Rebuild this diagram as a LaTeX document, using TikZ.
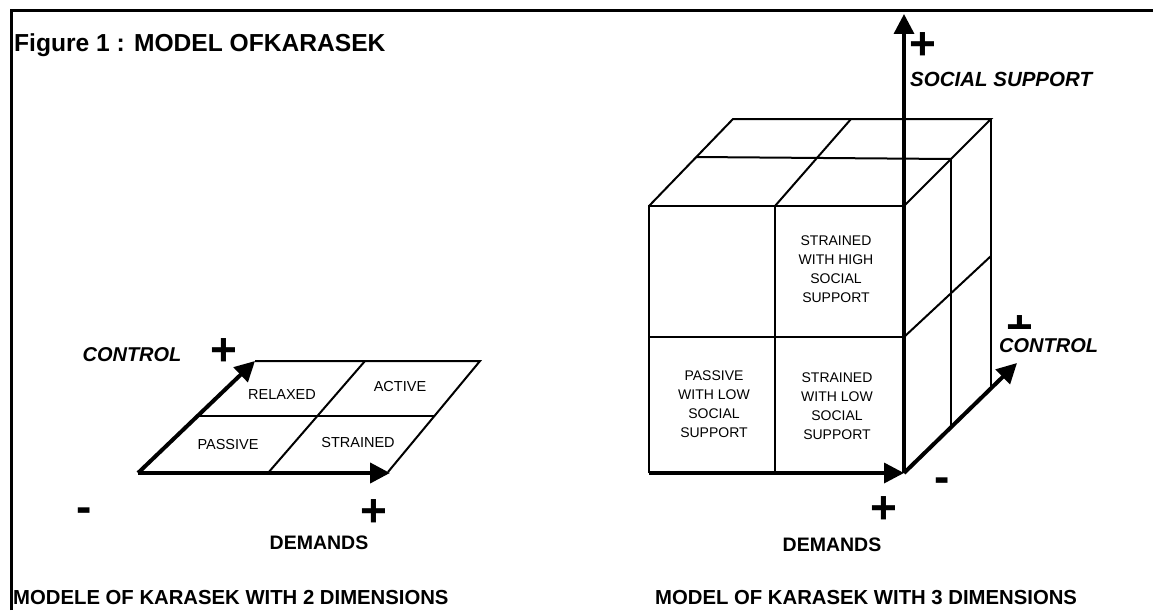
\documentclass[tikz,border=0pt]{standalone}
\usepackage{fontspec}
\setmainfont{Liberation Sans}
\usetikzlibrary{arrows.meta}

\begin{document}
\begin{tikzpicture}[x=1pt, y=-1pt]
\tikzstyle{frameline}=[line width=3pt]
\tikzstyle{gridline}=[line width=2pt]
\tikzstyle{axisarrow}=[line width=4pt, -{Triangle[length=20pt, width=20pt]}]
\tikzstyle{celltext}=[font=\fontsize{14}{19}\selectfont, align=center, inner sep=0pt]
\tikzstyle{axislabel}=[font=\fontsize{20}{24}\selectfont\bfseries\itshape, inner sep=0pt]
\tikzstyle{signtext}=[font=\fontsize{46}{46}\selectfont\bfseries, inner sep=0pt]
\tikzstyle{demandstext}=[font=\fontsize{19.5}{24}\selectfont\bfseries, inner sep=0pt]
\tikzstyle{captiontext}=[font=\fontsize{20.3}{24}\selectfont\bfseries, inner sep=0pt, anchor=base west]

\useasboundingbox (0,0) rectangle (1153,610);

% frame
\coordinate (B0) at (11,610);
\coordinate (B1) at (11,10.5);
\coordinate (B2) at (1153,10.5);
\draw[frameline] (B0) -- (B1) -- (B2);
\node[captiontext, font=\fontsize{24.6}{28}\selectfont\bfseries] (title) at (14,52) {Figure 1 : MODEL OFKARASEK};

% plane with 2 dimensions
\coordinate (P0x0) at (138,473);
\coordinate (P1x0) at (268,473);
\coordinate (P2x0) at (390,473);
\coordinate (P0x1) at (198,416);
\coordinate (P2x1) at (435,416);
\coordinate (P0x2) at (255,361);
\coordinate (P1x2) at (365,361);
\coordinate (P2x2) at (480,361);
\coordinate (P2x0e) at (388,472);
\draw[gridline] (P0x2) -- (P2x2) -- (P2x0e);
\draw[gridline] (P0x1) -- (P2x1);
\draw[gridline] (P1x0) -- (P1x2);
\draw[axisarrow] (P0x0) -- (P2x0);
\draw[axisarrow] (P0x0) -- (P0x2);

\node[celltext, font=\fontsize{14.5}{19}\selectfont] (relaxed) at (282,395) {RELAXED};
\node[celltext, font=\fontsize{14.5}{19}\selectfont] (active) at (400,387) {ACTIVE};
\node[celltext, font=\fontsize{14.5}{19}\selectfont] (passive) at (228,445) {PASSIVE};
\node[celltext, font=\fontsize{14.5}{19}\selectfont] (strained) at (358,443) {STRAINED};

\node[axislabel] (control2) at (132,355) {CONTROL};
\node[signtext] (plusC2) at (224,352) {+};
\node[signtext] (minus2) at (84,515) {-};
\node[signtext] (plusD2) at (374,513) {+};
\node[demandstext] (demands2) at (319,543) {DEMANDS};
\node[captiontext] (caption2) at (13,604) {MODELE OF KARASEK WITH 2 DIMENSIONS};

% cube with 3 dimensions
\coordinate (F0x0) at (649,473);
\coordinate (F1x0) at (775,473);
\coordinate (F2x0) at (904,473);
\coordinate (F0x1) at (649,337);
\coordinate (F2x1) at (904,337);
\coordinate (F0x2) at (649,206);
\coordinate (F1x2) at (775,206);
\coordinate (F2x2) at (904,206);
\coordinate (T0x1) at (696,157);
\coordinate (T2x1) at (951,159);
\coordinate (T0x2) at (733,119);
\coordinate (T1x2) at (851,119);
\coordinate (T2x2) at (991,119);
\coordinate (R1x0) at (951,427);
\coordinate (R2x0) at (991,388);
\coordinate (R2x1) at (991,256);
\coordinate (Stop) at (904,14);
\coordinate (Ktip) at (1017,363);

\draw[gridline] (F0x0) -- (F0x2) -- (F2x2);
\draw[gridline] (F1x0) -- (F1x2);
\draw[gridline] (F0x1) -- (F2x1);
\draw[gridline] (F0x2) -- (T0x2) -- (T2x2) -- (F2x2);
\draw[gridline] (F1x2) -- (T1x2);
\draw[gridline] (T0x1) -- (T2x1);
\draw[gridline] (T2x1) -- (R1x0);
\draw[gridline] (T2x2) -- (R2x0);
\draw[gridline] (F2x1) -- (R2x1);
\draw[axisarrow, line width=3.5pt] (F0x0) -- (F2x0);
\draw[axisarrow, line width=3.5pt] (F2x0) -- (Stop);
\draw[axisarrow] (F2x0) -- (Ktip);

\node[celltext] (highS) at (836,269) {STRAINED\\WITH HIGH\\SOCIAL\\SUPPORT};
\node[celltext] (lowP) at (714,404) {PASSIVE\\WITH LOW\\SOCIAL\\SUPPORT};
\node[celltext] (lowS) at (837,406) {STRAINED\\WITH LOW\\SOCIAL\\SUPPORT};

\node[signtext] (plusS3) at (923,46) {+};
\node[axislabel, font=\fontsize{20.5}{24}\selectfont\bfseries\itshape, anchor=west] (social3) at (910,79) {SOCIAL SUPPORT};
% half hidden plus above CONTROL
\begin{scope}
\clip (995,300) rectangle (1045,328.5);
\node[signtext, anchor=base, text depth=-5pt] (plusC3) at (1020,342) {+};
\end{scope}
\node[axislabel, anchor=west] (control3) at (999,346) {CONTROL};
\node[signtext] (minus3) at (942,485) {-};
\node[signtext] (plusD3) at (884,510) {+};
\node[demandstext] (demands3) at (832,545) {DEMANDS};
\node[captiontext] (caption3) at (655,604) {MODEL OF KARASEK WITH 3 DIMENSIONS};
\end{tikzpicture}
\end{document}
